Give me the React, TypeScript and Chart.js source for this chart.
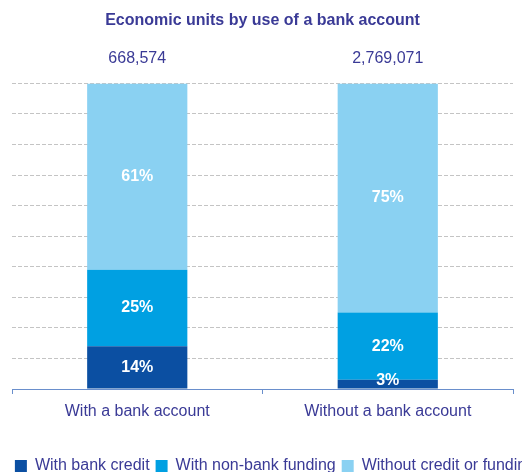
import React, { useEffect, useRef } from "react";
import { Chart, registerables } from "chart.js";

Chart.register(...registerables);

const categories = ["With a bank account", "Without a bank account"];
const totals = ["668,574", "2,769,071"];
const withBankCredit = [14, 3];
const withNonBankFunding = [25, 22];
const withoutCreditOrFunding = [61, 75];
const seriesNames = ["With bank credit", "With non-bank funding", "Without credit or funding"];

const FONT = "'Liberation Sans', Arial, sans-serif";
const TEXT = "#3a3a96";

const labelPlugin = {
  id: "segLabels",
  afterDatasetsDraw(chart: any) {
    const ctx = chart.ctx;
    ctx.save();
    ctx.fillStyle = "#ffffff";
    ctx.font = `bold 16px ${FONT}`;
    ctx.textAlign = "center";
    ctx.textBaseline = "middle";
    chart.data.datasets.forEach((ds: any, di: number) => {
      const meta = chart.getDatasetMeta(di);
      meta.data.forEach((el: any, i: number) => {
        const v = ds.data[i];
        const top = Math.min(el.y, el.base);
        const bot = Math.max(el.y, el.base);
        let cy = (top + bot) / 2;
        if (bot - top < 18) cy = bot - 8;
        ctx.fillText(`${v}%`, el.x, cy);
      });
    });
    ctx.restore();
  },
};

export default function App() {
  const ref = useRef<HTMLCanvasElement>(null);
  useEffect(() => {
    if (!ref.current) return;
    const chart = new Chart(ref.current, {
      type: "bar",
      data: {
        labels: categories,
        datasets: [
          { label: seriesNames[0], data: withBankCredit, backgroundColor: "#0b4fa2", xAxisID: "x" },
          { label: seriesNames[1], data: withNonBankFunding, backgroundColor: "#00a0e2", xAxisID: "x" },
          { label: seriesNames[2], data: withoutCreditOrFunding, backgroundColor: "#8ad1f2", xAxisID: "x" },
        ],
      },
      options: {
        animation: false,
        responsive: true,
        maintainAspectRatio: false,
        layout: { padding: 0 },
        datasets: { bar: { categoryPercentage: 1, barPercentage: 0.4 } },
        plugins: {
          title: {
            display: true,
            fullSize: false,
            text: "Economic units by use of a bank account",
            color: TEXT,
            font: { family: FONT, size: 16, weight: "bold" },
            padding: { top: 11, bottom: 4 },
          },
          legend: {
            position: "bottom",
            labels: {
              boxWidth: 12,
              boxHeight: 12,
              padding: 6,
              color: TEXT,
              font: { family: FONT, size: 16 },
            },
          },
          tooltip: { enabled: false },
        },
        scales: {
          x: {
            stacked: true,
            position: "bottom",
            grid: {
              display: true,
              drawOnChartArea: false,
              drawTicks: true,
              tickLength: 5,
              color: "#6a8fcc",
              offset: true,
            },
            border: { display: true, color: "#6a8fcc", width: 1 },
            ticks: { color: TEXT, font: { family: FONT, size: 16 }, padding: 8 },
            afterFit: (s: any) => { s.height = 63; },
          },
          x2: {
            type: "category",
            labels: totals,
            position: "top",
            offset: true,
            grid: { display: false, drawTicks: false },
            border: { display: false },
            ticks: { color: TEXT, font: { family: FONT, size: 16 }, padding: 15 },
          },
          y: {
            stacked: true,
            min: 0,
            max: 100,
            ticks: { display: false, stepSize: 10 },
            grid: { color: "#c4c4c4", drawTicks: false },
            border: { display: false, dash: [4, 2] },
            afterFit: (s: any) => { s.width = 12; },
          },
          yR: {
            position: "right",
            min: 0,
            max: 100,
            ticks: { display: false },
            grid: { display: false, drawTicks: false },
            border: { display: false },
            afterFit: (s: any) => { s.width = 37; },
          },
        },
      },
      plugins: [labelPlugin],
    });
    return () => chart.destroy();
  }, []);
  return (
    <div style={{ position: "absolute", left: 0, top: 0, width: 522, height: 472, overflow: "hidden" }}>
      <div style={{ position: "relative", width: 550, height: 484 }}>
        <canvas ref={ref} />
      </div>
    </div>
  );
}
